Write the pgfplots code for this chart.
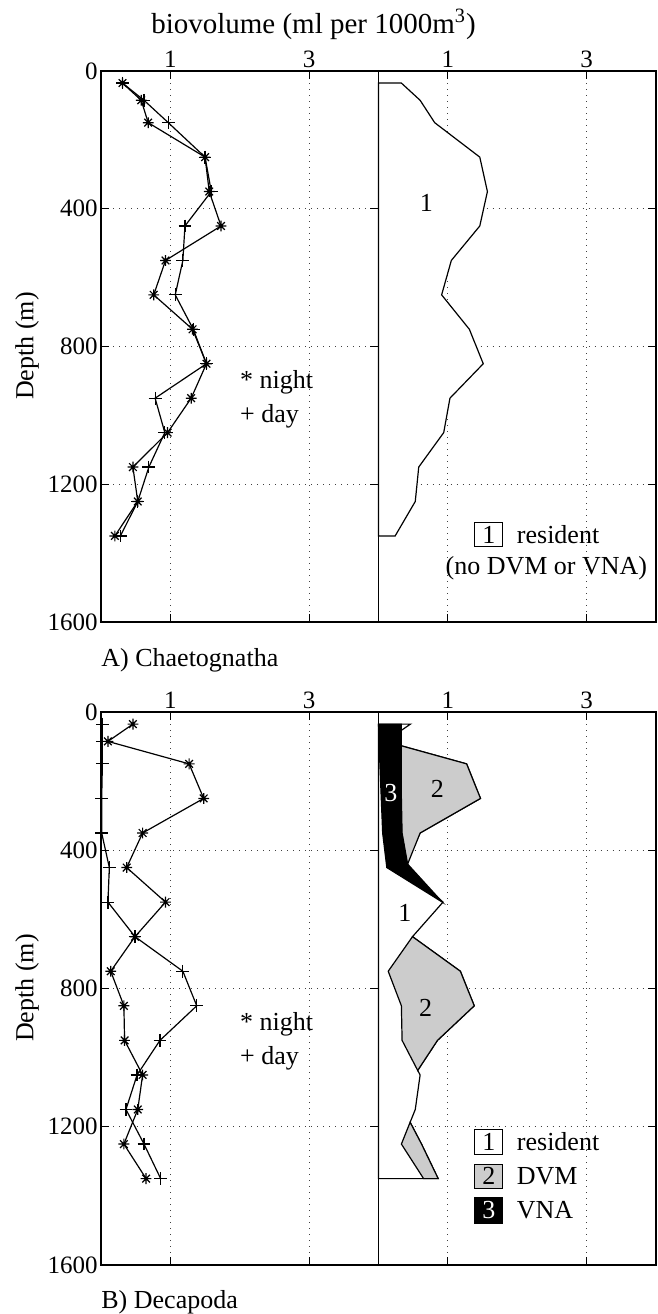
\documentclass[border=0pt]{standalone}
\usepackage{fontspec}
\setmainfont{Liberation Serif}
\usepackage{pgfplots}
\pgfplotsset{compat=1.18}

% MATLAB-style asterisk: a plus and a cross on top of each other
\pgfdeclareplotmark{nstar}{%
  \pgfpathmoveto{\pgfpoint{-\pgfplotmarksize}{0pt}}%
  \pgfpathlineto{\pgfpoint{\pgfplotmarksize}{0pt}}%
  \pgfpathmoveto{\pgfpoint{0pt}{-\pgfplotmarksize}}%
  \pgfpathlineto{\pgfpoint{0pt}{\pgfplotmarksize}}%
  \pgfpathmoveto{\pgfpoint{-0.7071\pgfplotmarksize}{-0.7071\pgfplotmarksize}}%
  \pgfpathlineto{\pgfpoint{0.7071\pgfplotmarksize}{0.7071\pgfplotmarksize}}%
  \pgfpathmoveto{\pgfpoint{-0.7071\pgfplotmarksize}{0.7071\pgfplotmarksize}}%
  \pgfpathlineto{\pgfpoint{0.7071\pgfplotmarksize}{-0.7071\pgfplotmarksize}}%
  \pgfusepathqstroke}

\colorlet{cDVM}{gray!40}
\newcommand{\txt}{\fontsize{13}{15}\selectfont}

\pgfplotsset{
  panel/.style={
    scale only axis, width=138.75pt,
    xmin=0, xmax=4, ymin=0, ymax=1600, y dir=reverse,
    xtick={1,3}, ytick={0,400,800,1200,1600},
    xtick pos=both, ytick pos=both, xticklabel pos=upper,
    tick align=inside, major tick length=4pt,
    grid=major,
    major grid style={black!75, line width=0.4pt, dash pattern=on 0.5pt off 2.5pt},
    axis line style={line width=0.8pt},
    tick style={line width=0.6pt, black},
    tick label style={font=\fontsize{12.5}{14}\selectfont, inner sep=1.5pt},
    /pgf/number format/assume math mode=true,
    /pgf/number format/1000 sep={},
    scaled ticks=false,
    clip=false,
    anchor=north west,
  },
  rightpanel/.style={panel, yticklabels={}},
  night/.style={black, line width=0.6pt, mark=nstar, mark size=2.7pt},
  day/.style={black, line width=0.6pt, mark=+, mark size=3.2pt},
  profile/.style={draw=black, line width=0.6pt},
}

\begin{document}
\begin{tikzpicture}
\useasboundingbox (0pt,0pt) rectangle (329pt,-657pt);

\node[anchor=base, font=\fontsize{14.5}{16}\selectfont] at (156.75pt,-16.5pt)
  {biovolume (ml per 1000m\textsuperscript{3})};
\node[rotate=90, font=\txt] at (13.5pt,-173pt) {Depth (m)};
\node[rotate=90, font=\txt] at (13.5pt,-494pt) {Depth (m)};
\node[anchor=base west, font=\txt, inner sep=0pt] at (50.5pt,-333pt) {A) Chaetognatha};
\node[anchor=base west, font=\txt, inner sep=0pt] at (50.5pt,-654pt) {B) Decapoda};

% ---------------- A) Chaetognatha, night and day profiles ----------------
\begin{axis}[panel, at={(50.5pt,-35.5pt)}, height=275.5pt]
\addplot[night] coordinates {
  (0.31,35) (0.58,85) (0.68,150) (1.50,250) (1.56,350) (1.73,450) (0.93,550)
  (0.76,650) (1.32,750) (1.52,850) (1.30,950) (0.96,1050) (0.46,1150)
  (0.53,1250) (0.20,1350)};
\addplot[day] coordinates {
  (0.31,35) (0.62,85) (0.97,150) (1.50,250) (1.59,350) (1.21,450) (1.18,550)
  (1.07,650) (1.33,750) (1.52,850) (0.78,950) (0.92,1050) (0.69,1150)
  (0.53,1250) (0.28,1350)};
\node[anchor=west, inner sep=0pt, font=\txt] at (axis cs:2.0,905) {* night};
\node[anchor=west, inner sep=0pt, font=\txt] at (axis cs:2.0,1004) {+ day};
\end{axis}

% ---------------- A) resident fraction ----------------
\begin{axis}[rightpanel, at={(189.25pt,-35.5pt)}, height=275.5pt]
\addplot[profile, fill=white] coordinates {
  (0,35) (0.33,35) (0.60,85) (0.81,150) (1.46,250) (1.57,350) (1.46,450)
  (1.05,550) (0.91,650) (1.31,750) (1.51,850) (1.03,950) (0.94,1050)
  (0.58,1150) (0.53,1250) (0.24,1350) (0,1350)} --cycle;
\node[font=\txt] at (axis cs:0.69,384) {1};
\draw[line width=0.5pt, fill=white] (axis cs:1.39,1311) rectangle (axis cs:1.79,1381);
\node[font=\txt] at (axis cs:1.59,1346) {1};
\node[anchor=west, inner sep=0pt, font=\txt] at (axis cs:1.99,1346) {resident};
\node[font=\txt] at (axis cs:2.42,1443) {(no DVM or VNA)};
\draw[line width=0.8pt] (rel axis cs:0,0) rectangle (rel axis cs:1,1);
\end{axis}

% ---------------- B) Decapoda, night and day profiles ----------------
\begin{axis}[panel, at={(50.5pt,-356pt)}, height=276.5pt]
\addplot[night] coordinates {
  (0.46,35) (0.10,85) (1.27,150) (1.48,250) (0.60,350) (0.37,450) (0.93,550)
  (0.49,650) (0.14,750) (0.33,850) (0.34,950) (0.60,1050) (0.53,1150)
  (0.33,1250) (0.65,1350)};
\addplot[day] coordinates {
  (0.02,35) (0.02,85) (0.02,150) (0.01,250) (0.01,350) (0.12,450) (0.10,550)
  (0.49,650) (1.18,750) (1.38,850) (0.85,950) (0.52,1050) (0.36,1150)
  (0.62,1250) (0.86,1350)};
\node[anchor=west, inner sep=0pt, font=\txt] at (axis cs:2.0,903) {* night};
\node[anchor=west, inner sep=0pt, font=\txt] at (axis cs:2.0,1001) {+ day};
\end{axis}

% ---------------- B) resident / DVM / VNA ----------------
\begin{axis}[rightpanel, at={(189.25pt,-356pt)}, height=276.5pt]
% 1: resident (whole envelope)
\addplot[profile, fill=white] coordinates {
  (0,35) (0.46,35) (0.10,85) (1.27,150) (1.47,250) (0.60,350) (0.37,450)
  (0.93,550) (0.49,650) (1.18,750) (1.38,850) (0.85,950) (0.565,1037)
  (0.60,1050) (0.53,1150) (0.456,1187) (0.62,1250) (0.86,1350) (0,1350)} --cycle;
% 2: DVM
\addplot[profile, fill=cDVM] coordinates {
  (0.10,85) (1.27,150) (1.47,250) (0.60,350) (0.42,440) (0.2,440) (0.2,85)} --cycle;
\addplot[profile, fill=cDVM] coordinates {
  (0.49,650) (1.18,750) (1.38,850) (0.85,950) (0.565,1037) (0.34,950)
  (0.33,850) (0.14,750)} --cycle;
\addplot[profile, fill=cDVM] coordinates {
  (0.456,1187) (0.62,1250) (0.86,1350) (0.65,1350) (0.33,1250)} --cycle;
% 3: VNA
\addplot[profile, fill=black] coordinates {
  (0,35) (0.33,35) (0.33,150) (0.33,250) (0.34,350) (0.42,440) (0.92,550)
  (0.12,450) (0.06,350) (0.04,250) (0.02,150) (0.01,85)} --cycle;
\node[font=\txt, text=white] at (axis cs:0.18,233) {3};
\node[font=\txt] at (axis cs:0.85,221) {2};
\node[font=\txt] at (axis cs:0.38,582) {1};
\node[font=\txt] at (axis cs:0.68,857) {2};
% legend
\draw[line width=0.5pt, fill=white] (axis cs:1.39,1209) rectangle (axis cs:1.79,1279);
\node[font=\txt] at (axis cs:1.59,1244) {1};
\draw[line width=0.5pt, fill=cDVM] (axis cs:1.39,1308) rectangle (axis cs:1.79,1379);
\node[font=\txt] at (axis cs:1.59,1343) {2};
\draw[line width=0.5pt, fill=black] (axis cs:1.39,1406) rectangle (axis cs:1.79,1479);
\node[font=\txt, text=white] at (axis cs:1.59,1442) {3};
\node[anchor=west, inner sep=0pt, font=\txt] at (axis cs:1.99,1244) {resident};
\node[anchor=west, inner sep=0pt, font=\txt] at (axis cs:1.99,1343) {DVM};
\node[anchor=west, inner sep=0pt, font=\txt] at (axis cs:1.99,1442) {VNA};
\draw[line width=0.8pt] (rel axis cs:0,0) rectangle (rel axis cs:1,1);
\end{axis}
\end{tikzpicture}
\end{document}
